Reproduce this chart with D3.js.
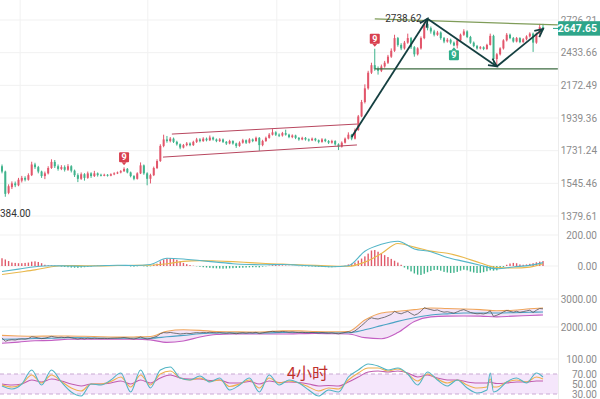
<!DOCTYPE html>
<html><head><meta charset="utf-8">
<script src="https://cdn.jsdelivr.net/npm/d3@7"></script>
<style>body{margin:0;background:#fff}svg{display:block}</style>
</head><body>
<script>
// ---------- DATA ----------
const opens=[1640,1610,1495,1525,1545,1535,1560,1575,1565,1590,1650,1635,1610,1585,1600,1630,1665,1640,1625,1635,1620,1640,1615,1590,1570,1595,1575,1600,1585,1600,1592,1588,1592,1587,1595,1600,1605,1612,1625,1605,1585,1570,1600,1645,1600,1570,1590,1630,1670,1760,1800,1790,1805,1785,1770,1750,1765,1775,1765,1785,1800,1790,1805,1795,1812,1800,1790,1800,1785,1775,1790,1775,1760,1780,1795,1780,1800,1790,1810,1765,1790,1810,1830,1845,1830,1825,1840,1830,1815,1825,1810,1800,1810,1800,1795,1805,1795,1785,1800,1790,1780,1790,1770,1755,1780,1805,1830,1805,1860,1950,2050,2150,2270,2330,2300,2285,2320,2350,2400,2450,2560,2500,2470,2520,2560,2480,2420,2470,2560,2690,2650,2620,2590,2610,2560,2530,2545,2520,2495,2540,2590,2620,2570,2520,2490,2470,2480,2465,2500,2580,2380,2420,2470,2540,2590,2560,2530,2560,2525,2550,2575,2600,2520,2600,2660];
const closes=[1610,1490,1530,1545,1535,1565,1575,1565,1590,1650,1635,1610,1585,1600,1630,1665,1640,1625,1635,1620,1640,1615,1590,1570,1595,1575,1600,1585,1600,1590,1588,1592,1587,1595,1600,1605,1612,1625,1605,1585,1570,1600,1645,1600,1570,1590,1630,1670,1760,1800,1790,1805,1785,1770,1750,1765,1775,1765,1785,1800,1790,1805,1795,1812,1800,1790,1800,1785,1775,1790,1775,1760,1780,1795,1780,1800,1790,1810,1765,1790,1810,1830,1845,1830,1825,1840,1830,1815,1825,1810,1800,1810,1800,1795,1805,1795,1785,1800,1790,1780,1790,1770,1755,1780,1805,1830,1805,1860,1950,2050,2150,2270,2330,2300,2285,2320,2350,2400,2450,2560,2500,2470,2520,2560,2480,2420,2470,2560,2690,2650,2620,2590,2610,2560,2530,2545,2520,2495,2540,2590,2620,2570,2520,2490,2470,2480,2465,2500,2580,2380,2420,2470,2540,2590,2560,2530,2560,2525,2550,2575,2600,2520,2600,2660,2647.65];
const highs=[1650,1615,1540,1556,1555,1575,1586,1584,1600,1666,1660,1642,1615,1610,1640,1680,1676,1650,1646,1645,1652,1646,1621,1600,1605,1601,1610,1606,1614,1605,1598,1598,1596,1600,1606,1610,1618,1634,1630,1610,1590,1606,1662,1650,1606,1598,1638,1680,1770,1830,1822,1815,1812,1792,1775,1772,1784,1782,1792,1810,1808,1814,1812,1825,1818,1806,1808,1806,1790,1798,1795,1780,1788,1804,1800,1808,1806,1818,1815,1798,1818,1840,1866,1852,1838,1848,1862,1836,1832,1830,1815,1817,1815,1806,1812,1810,1800,1808,1806,1796,1798,1795,1776,1788,1812,1845,1835,1870,1960,2065,2180,2285,2350,2467,2320,2335,2365,2415,2470,2590,2570,2515,2535,2600,2570,2490,2480,2575,2710,2738.62,2665,2635,2625,2620,2570,2560,2555,2530,2550,2600,2640,2630,2580,2530,2500,2490,2488,2510,2600,2590,2430,2480,2550,2605,2600,2570,2570,2568,2560,2585,2612,2610,2610,2690,2690];
const lows=[1600,1475,1488,1515,1525,1530,1550,1556,1560,1585,1625,1600,1575,1568,1594,1625,1630,1615,1618,1610,1614,1605,1580,1552,1564,1560,1570,1575,1580,1582,1583,1584,1582,1584,1590,1596,1600,1608,1600,1578,1562,1566,1596,1592,1535,1545,1585,1624,1665,1752,1780,1782,1778,1762,1740,1745,1758,1758,1760,1778,1782,1785,1788,1790,1793,1783,1784,1778,1766,1770,1768,1748,1755,1774,1772,1775,1783,1786,1730,1758,1785,1805,1825,1822,1815,1818,1824,1808,1808,1802,1792,1795,1793,1787,1790,1788,1776,1780,1783,1772,1774,1762,1735,1750,1775,1800,1795,1800,1855,1945,2040,2140,2260,2285,2255,2275,2310,2340,2390,2440,2485,2455,2460,2510,2465,2400,2410,2460,2550,2630,2600,2575,2580,2545,2515,2520,2505,2488,2470,2530,2580,2560,2510,2480,2460,2462,2455,2458,2495,2330,2320,2410,2460,2530,2550,2520,2522,2515,2518,2540,2565,2440,2510,2590,2630];
const priceTicks=[2726.21,2433.66,2172.49,1939.36,1731.24,1545.46,1379.61];
const lastPrice=2647.65, highLabel="2738.62", lowLabel="1384.00";

const macdHist=[50,42,32,22,20,18,18,20,22,28,30,26,18,8,5,4,3,2,-4,-6,-8,-10,-11,-12,-10,-8,-6,-4,2,3,2,3,4,4,5,5,6,6,4,-3,-4,-2,2,-2,-4,-2,8,15,30,42,48,50,46,40,30,20,12,6,2,-2,-5,-8,-10,-12,-14,-15,-16,-17,-16,-15,-14,-13,-12,-11,-10,-9,-8,-8,-9,-4,-2,2,5,6,5,4,3,2,1,0,-1,-2,-2,-3,-3,-4,-5,-6,-7,-8,-8,-7,-6,-3,2,10,14,22,35,48,62,80,100,103,92,82,70,58,46,34,22,8,-10,-22,-35,-48,-56,-58,-50,-40,-32,-26,-25,-30,-38,-42,-45,-44,-38,-30,-24,-28,-36,-42,-45,-44,-40,-34,-28,-30,-28,-18,-6,8,16,20,18,10,8,10,14,18,24,28,32];
const lineIdx=[0,5,10,15,20,25,30,35,40,45,50,55,60,65,70,75,80,85,90,95,100,105,110,115,120,125,130,135,140,145,150,155,160,164];
const macdDif=[-35,-20,-5,2,0,-2,2,5,3,10,50,45,35,25,15,10,8,10,5,0,-5,2,95,140,160,110,92,55,30,5,-18,-6,4,22];
const macdDea=[-55,-40,-25,-5,3,2,1,3,4,5,15,30,35,32,28,22,16,12,8,4,0,-2,25,80,145,122,96,82,55,19,-10,-13,-7,14];
const macdTicks=[200,0];

const bollUp=[1700,1680,1670,1680,1680,1670,1650,1640,1645,1660,1850,1900,1880,1840,1830,1820,1830,1860,1860,1840,1830,1840,2250,2500,2560,2620,2680,2660,2645,2620,2580,2600,2650,2680];
const bollMid=[1560,1570,1590,1600,1620,1615,1605,1600,1605,1600,1650,1700,1760,1785,1790,1788,1790,1805,1810,1805,1795,1795,1900,2050,2200,2330,2430,2470,2500,2500,2500,2510,2525,2536];
const bollLow=[1420,1460,1510,1520,1560,1560,1560,1565,1565,1540,1450,1500,1640,1730,1750,1755,1750,1750,1760,1770,1760,1750,1620,1580,1800,2200,2360,2390,2395,2390,2360,2390,2410,2430];
const bollTicks=[3000,2000];

const rsiIdx=[0,3,6,9,12,15,18,21,24,27,30,33,36,39,42,45,48,51,54,57,60,63,66,69,72,75,78,81,84,87,90,93,96,99,102,105,108,111,114,117,120,123,126,129,132,135,138,141,144,147,148,149,150,153,156,159,162,164];
const rsi6=[46,40,50,78,48,78,54,34,26,50,48,58,72,34,78,42,78,84,62,58,66,54,62,38,48,62,34,68,48,58,52,38,26,38,34,64,78,90,86,78,82,70,48,74,58,46,58,42,32,38,72,34,36,54,62,52,72,64];
const rsi12=[48,44,50,68,52,68,55,42,36,50,50,55,64,44,68,48,70,76,62,58,62,55,58,45,50,58,42,62,52,56,52,44,36,42,40,58,72,82,82,76,80,70,56,70,60,52,58,48,42,44,60,44,44,54,58,54,64,60];
const rsi24=[50,48,50,58,54,60,56,50,46,50,50,52,56,50,58,52,62,68,62,60,60,57,58,52,52,55,50,56,53,54,53,50,46,47,46,54,64,74,76,74,76,72,64,68,62,58,58,54,52,52,54,52,51,52,54,54,56,56];
const rsiTicks=[100,70,50,30];

const gridIdx=[5.5,44.2,83.3,102.4,140.9];
// drawings: [index, price]
const channelTop=[[51.5,1834],[107.6,1899]];
const channelBot=[[48.8,1693],[107.6,1766]];
const arrows=[[[106,1816],[129,2738.62]],[[129,2738.62],[150,2320]],[[150,2320],[164,2643]]];
const resistance=[[113,2736],[168.5,2680]];
const support=[[113,2300],[168.5,2300]];
const nineMarks=[{i:37,pos:"above"},{i:113,pos:"above"},{i:137,pos:"below"}];
const periodLabel="4小时";

// ---------- CHART ----------
const W=600,H=399,plotR=558;
const UP="#e2566b",DN="#3fb38c";
const FONT="Roboto, Arial, sans-serif";
const svg=d3.select("body").append("svg").attr("width",W).attr("height",H);
const N=closes.length;
const x=d3.scaleLinear().domain([0,164]).range([2,543]);
const yP=d3.scaleLog().domain([1379.61,2726.21]).range([216,20]);
const yM=d3.scaleLinear().domain([0,200]).range([266,235]);
const yB=d3.scaleLinear().domain([2000,3000]).range([327,299]);
const yR=d3.scaleLinear().domain([30,100]).range([394,359]);

svg.append("defs").append("clipPath").attr("id","clip").append("rect").attr("x",0).attr("y",0).attr("width",plotR).attr("height",H);

// grid
const grid=svg.append("g").attr("stroke","#f1f1f1").attr("stroke-width",1);
grid.selectAll("line.v").data(gridIdx).join("line").attr("x1",d=>x(d)).attr("x2",d=>x(d)).attr("y1",0).attr("y2",H);
grid.selectAll("line.p").data(priceTicks).join("line").attr("x1",0).attr("x2",plotR).attr("y1",d=>yP(d)).attr("y2",d=>yP(d));
grid.selectAll("line.m").data(macdTicks).join("line").attr("x1",0).attr("x2",plotR).attr("y1",d=>yM(d)).attr("y2",d=>yM(d));
grid.selectAll("line.b").data(bollTicks).join("line").attr("x1",0).attr("x2",plotR).attr("y1",d=>yB(d)).attr("y2",d=>yB(d));
grid.append("line").attr("x1",0).attr("x2",plotR).attr("y1",yR(100)).attr("y2",yR(100));
svg.append("line").attr("x1",plotR+0.5).attr("x2",plotR+0.5).attr("y1",0).attr("y2",H).attr("stroke","#ececec");

const plot=svg.append("g").attr("clip-path","url(#clip)");

// candles
const idx=d3.range(N);
const cg=plot.append("g");
cg.selectAll("line").data(idx).join("line")
  .attr("x1",i=>x(i)).attr("x2",i=>x(i))
  .attr("y1",i=>yP(highs[i])).attr("y2",i=>yP(lows[i]))
  .attr("stroke",i=>closes[i]>=opens[i]?UP:DN).attr("stroke-width",1);
cg.selectAll("rect").data(idx).join("rect")
  .attr("x",i=>x(i)-1).attr("width",2)
  .attr("y",i=>yP(Math.max(opens[i],closes[i])))
  .attr("height",i=>Math.max(1,Math.abs(yP(opens[i])-yP(closes[i]))))
  .attr("fill",i=>closes[i]>=opens[i]?UP:DN);

// drawings
const ptLine=d3.line().x(d=>x(d[0])).y(d=>yP(d[1]));
plot.append("path").attr("d",ptLine(channelTop)).attr("stroke","#b8475f").attr("fill","none").attr("stroke-width",1);
plot.append("path").attr("d",ptLine(channelBot)).attr("stroke","#b8475f").attr("fill","none").attr("stroke-width",1);
plot.append("path").attr("d",ptLine(resistance)).attr("stroke","#7f9c58").attr("fill","none").attr("stroke-width",1.2);
plot.append("path").attr("d",ptLine(support)).attr("stroke","#3d6b40").attr("fill","none").attr("stroke-width",1.2);

const mk=svg.select("defs").append("marker").attr("id","ah").attr("markerUnits","userSpaceOnUse")
  .attr("markerWidth",14).attr("markerHeight",14).attr("refX",9).attr("refY",5).attr("orient","auto")
  .attr("viewBox","0 0 14 10");
mk.append("path").attr("d","M1,1 L9,5 L1,9").attr("fill","none").attr("stroke","#143f40").attr("stroke-width",1.8);
arrows.forEach(a=>{
  plot.append("path").attr("d",ptLine(a)).attr("stroke","#143f40").attr("stroke-width",1.8).attr("fill","none").attr("marker-end","url(#ah)");
});

// high / low labels
const hiI=d3.maxIndex(highs), loI=d3.minIndex(lows);
svg.append("text").attr("x",x(hiI)-6).attr("y",yP(highs[hiI])).attr("dy","0.32em").attr("text-anchor","end")
  .attr("fill","#333").style("font-size","10px").style("font-family",FONT).text(highLabel);
svg.append("text").attr("x",x(loI)-11).attr("y",yP(lows[loI])+17).attr("dy","0.32em").attr("text-anchor","start")
  .attr("fill","#333").style("font-size","10px").style("font-family",FONT).text(lowLabel);

// "9" markers
nineMarks.forEach(m=>{
  const cx=x(m.i), g=svg.append("g");
  const col=m.pos==="above"?"#d8404f":"#2fae8a";
  let top,tri;
  if(m.pos==="above"){const hy=yP(highs[m.i]);top=hy-15;tri=`M${cx-2.5},${top+10} L${cx+2.5},${top+10} L${cx},${top+13} Z`;}
  else{const ly=yP(lows[m.i]);top=ly+4;tri=`M${cx-2.5},${top} L${cx+2.5},${top} L${cx},${top-3} Z`;}
  g.append("rect").attr("x",cx-5).attr("y",top).attr("width",10).attr("height",10).attr("rx",1).attr("fill",col);
  g.append("path").attr("d",tri).attr("fill",col);
  g.append("text").attr("x",cx).attr("y",top+5).attr("dy","0.35em").attr("text-anchor","middle").attr("fill","#fff")
    .style("font-size","9px").style("font-weight","bold").style("font-family",FONT).text("9");
});

// last price tag
svg.append("line").attr("x1",553).attr("x2",plotR).attr("y1",yP(lastPrice)).attr("y2",yP(lastPrice)).attr("stroke","#2ea58a").attr("stroke-width",1);
svg.append("rect").attr("x",plotR).attr("y",yP(lastPrice)-7).attr("width",W-plotR).attr("height",14).attr("fill","#2ea58a");
svg.append("text").attr("x",597).attr("y",yP(lastPrice)).attr("dy","0.34em").attr("text-anchor","end").attr("fill","#fff")
  .style("font-size","10.5px").style("font-weight","bold").style("font-family",FONT).text(lastPrice.toFixed(2));

// MACD
const mg=plot.append("g");
mg.selectAll("rect").data(idx).join("rect")
  .attr("x",i=>x(i)-0.7).attr("width",1.4)
  .attr("y",i=>Math.min(yM(0),yM(macdHist[i]))).attr("height",i=>Math.abs(yM(macdHist[i])-yM(0)))
  .attr("fill",i=>macdHist[i]>=0?"#e05a6a":"#3fb38c");
const lineM=arr=>d3.line().curve(d3.curveMonotoneX).x((d,k)=>x(lineIdx[k])).y(d=>yM(d))(arr);
mg.append("path").attr("d",lineM(macdDea)).attr("stroke","#e9b84c").attr("fill","none").attr("stroke-width",1.1);
mg.append("path").attr("d",lineM(macdDif)).attr("stroke","#55b6c8").attr("fill","none").attr("stroke-width",1.1);

// BOLL
const bg=plot.append("g");
bg.append("path").attr("d",d3.area().curve(d3.curveMonotoneX).x((d,k)=>x(lineIdx[k])).y0((d,k)=>yB(bollLow[k])).y1(d=>yB(d))(bollUp))
  .attr("fill","#f3e3f7");
const lineB=arr=>d3.line().curve(d3.curveMonotoneX).x((d,k)=>x(lineIdx[k])).y(d=>yB(d))(arr);
bg.append("path").attr("d",lineB(bollLow)).attr("stroke","#c35fc3").attr("fill","none").attr("stroke-width",1.1);
bg.append("path").attr("d",lineB(bollMid)).attr("stroke","#4aa3c4").attr("fill","none").attr("stroke-width",1.1);
bg.append("path").attr("d",lineB(bollUp)).attr("stroke","#f0a65a").attr("fill","none").attr("stroke-width",1.1);
bg.append("path").attr("d",d3.line().x((d,i)=>x(i)).y(d=>yB(d))(closes)).attr("stroke","#555").attr("fill","none").attr("stroke-width",0.8);

// RSI
const rg=plot.append("g");
rg.append("rect").attr("x",0).attr("width",plotR).attr("y",yR(70)).attr("height",yR(30)-yR(70)).attr("fill","#f5e6fb");
[70,30].forEach(v=>rg.append("line").attr("x1",0).attr("x2",plotR).attr("y1",yR(v)).attr("y2",yR(v))
  .attr("stroke","#c9a9d3").attr("stroke-dasharray","4,3"));
const lineR=arr=>d3.line().curve(d3.curveMonotoneX).x((d,k)=>x(rsiIdx[k])).y(d=>yR(d))(arr);
rg.append("path").attr("d",lineR(rsi24)).attr("stroke","#c05cb0").attr("fill","none").attr("stroke-width",1.1);
rg.append("path").attr("d",lineR(rsi12)).attr("stroke","#eeb04c").attr("fill","none").attr("stroke-width",1.1);
rg.append("path").attr("d",lineR(rsi6)).attr("stroke","#52b5c4").attr("fill","none").attr("stroke-width",1.1);

svg.append("text").attr("x",287).attr("y",379).attr("fill","#c0302c")
  .style("font-size","16px").style("font-family","'Noto Sans CJK SC', sans-serif").text(periodLabel);

// axes
function rightAxis(scale, vals){
  const g=svg.append("g").attr("transform","translate(597,0)")
    .call(d3.axisLeft(scale).tickValues(vals).tickSize(0).tickPadding(0).tickFormat(d3.format(".2f")));
  g.select(".domain").remove();
  g.selectAll("text").attr("fill","#8c8c8c").style("font-size","10px").style("font-family",FONT);
}
rightAxis(yP,priceTicks.filter(v=>Math.abs(yP(v)-yP(lastPrice))>5 || true));
rightAxis(yM,macdTicks);
rightAxis(yB,bollTicks);
rightAxis(yR,rsiTicks);
// redraw last price tag on top of axis labels
svg.append("rect").attr("x",plotR+1).attr("y",yP(lastPrice)-7).attr("width",W-plotR).attr("height",14).attr("fill","#2ea58a");
svg.append("text").attr("x",597).attr("y",yP(lastPrice)).attr("dy","0.34em").attr("text-anchor","end").attr("fill","#fff")
  .style("font-size","10.5px").style("font-weight","bold").style("font-family",FONT).text(lastPrice.toFixed(2));
</script>
</body></html>
